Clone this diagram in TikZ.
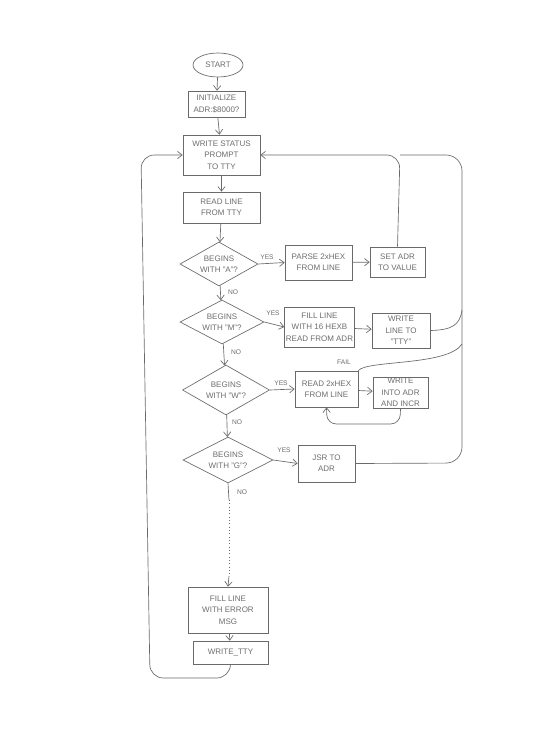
\documentclass[tikz,border=0pt]{standalone}
\usepackage{fontspec}
\setmainfont{Liberation Sans}
\usetikzlibrary{shapes.geometric,arrows.meta}
\definecolor{ink}{HTML}{6A6A6A}
\definecolor{txt}{HTML}{6E6E6E}
\begin{document}
\begin{tikzpicture}[x=0.75pt,y=-0.75pt,
  line width=0.5pt,
  every node/.style={text=txt, font=\fontsize{6}{8.5}\selectfont},
  box/.style={draw=ink, rectangle, align=center, inner sep=1pt},
  oval/.style={draw=ink, ellipse, inner sep=0pt},
  dec/.style={draw=ink, diamond, inner sep=0pt},
  arr/.style={color=ink, -{Straight Barb[length=3.5pt,width=5.5pt]}},
  ln/.style={color=ink},
  lbl/.style={font=\fontsize{5}{6}\selectfont},
  ]
\useasboundingbox[fill=white] (0,0) rectangle (540,742);

% main column
\node[oval, minimum width=37.5pt, minimum height=18pt] (start) at (218,65) {START};
\node[box, minimum width=42.75pt, minimum height=19.5pt] (init) at (216.5,104) {INITIALIZE\\ADR:\$8000?};
\node[box, minimum width=57.75pt, minimum height=30pt] (wsp) at (221.5,155) {WRITE STATUS\\PROMPT\\TO TTY};
\node[box, minimum width=57.75pt, minimum height=23.25pt] (rl) at (221.5,207.5) {READ LINE\\FROM TTY};

\node[dec, minimum width=58.5pt, minimum height=33pt,
  label={[align=center]center:BEGINS\\WITH "A"?}] (d1) at (219,264) {};
\node[dec, minimum width=63pt, minimum height=33pt,
  label={[align=center]center:BEGINS\\WITH "M"?}] (d2) at (222,322) {};
\node[dec, minimum width=65.25pt, minimum height=37.5pt,
  label={[align=center]center:BEGINS\\WITH "W"?}] (d3) at (226,390) {};
\node[dec, minimum width=67.5pt, minimum height=34.5pt,
  label={[align=center]center:BEGINS\\WITH "G"?}] (d4) at (228,460) {};

% action boxes
\node[box, minimum width=50.25pt, minimum height=26.25pt] (parse) at (318.5,262.5) {PARSE 2xHEX\\FROM LINE};
\node[box, minimum width=41.25pt, minimum height=22.5pt] (set) at (397.5,262) {SET ADR\\TO VALUE};
\node[box, minimum width=48.75pt, minimum height=30pt] (fill) at (319.5,327) {FILL LINE\\WITH 16 HEXB\\READ FROM ADR};
\node[box, minimum width=43.5pt, minimum height=26.25pt] (wlt) at (401,330.5) {WRITE\\LINE TO\\"TTY"};
\node[box, minimum width=47.25pt, minimum height=27pt] (rhex) at (326.5,389) {READ 2xHEX\\FROM LINE};
\node[box, minimum width=41.25pt, minimum height=23.25pt] (wia) at (400.5,392.5) {WRITE\\INTO ADR\\AND INCR};
\node[box, minimum width=42.75pt, minimum height=27.75pt] (jsr) at (326.5,463.5) {JSR TO\\ADR};
\node[box, minimum width=60pt, minimum height=34.5pt] (ferr) at (228,610) {FILL LINE\\WITH ERROR\\MSG};
\node[box, minimum width=56.25pt, minimum height=17.25pt] (wtty) at (230.5,652.5) {WRITE\_TTY};

% labels
\node[lbl] (y1) at (267,257) {YES};
\node[lbl] (n1) at (233,292) {NO};
\node[lbl] (y2) at (273,313) {YES};
\node[lbl] (n2) at (236,352) {NO};
\node[lbl] (y3) at (281,383) {YES};
\node[lbl] (n3) at (237,422) {NO};
\node[lbl] (y4) at (284,450) {YES};
\node[lbl] (n4) at (242,492) {NO};
\node[lbl] (fl) at (344,362) {FAIL};

% main flow
\draw[arr] (start) -- (init);
\draw[arr] (init) -- (wsp);
\draw[arr] (wsp) -- (rl);
\draw[arr] (rl) -- (d1);
\draw[arr] (d1) -- (d2);
\draw[arr] (d2) -- (d3);
\draw[arr] (d3) -- (d4);
\draw[arr] (d1.east) -- (parse.west);
\draw[arr] (parse) -- (set);
\draw[arr] (d2.east) -- (fill.west);
\draw[arr] (fill) -- (wlt);
\draw[arr] (d3.east) -- (rhex.west);
\draw[arr] (rhex) -- (wia);
\draw[arr] (d4.east) -- (jsr.west);

% default branch
\coordinate (ds) at (229,500);
\coordinate (de) at (229,576);
\draw[ln] (d4.south) -- (ds);
\draw[ln, dotted] (ds) -- (de);
\draw[arr] (de) -- (ferr.north);
\draw[arr] (ferr) -- (wtty);

% write-into loop
\coordinate (wl1) at (400,424);
\coordinate (wl2) at (327,424);
\draw[arr, rounded corners=7pt] (wia.south) -- (wl1) -- (wl2) -- (rhex.south);

% left return loop
\coordinate (lb1) at (230,678);
\coordinate (lb2) at (150,678);
\coordinate (lt1) at (141,155);
\draw[arr, rounded corners=10pt] (wtty.south) -- (lb1) -- (lb2) -- (lt1) -- (wsp.west);

% right return loops
\coordinate (it) at (400,155);
\draw[arr, rounded corners=10pt] (set.north) -- (it) -- (wsp.east);
\coordinate (oj) at (462,463);
\coordinate (ot) at (462,155);
\draw[ln, rounded corners=12pt] (jsr.east) -- (oj) -- (ot) -- (it);
\coordinate (tw) at (462,310);
\draw[ln] (wlt.east) .. controls (452,330) and (460,325) .. (tw);
\coordinate (tf) at (462,344);
\draw[ln] (rhex.north east) .. controls (366,360) and (448,366) .. (tf);
\end{tikzpicture}
\end{document}
